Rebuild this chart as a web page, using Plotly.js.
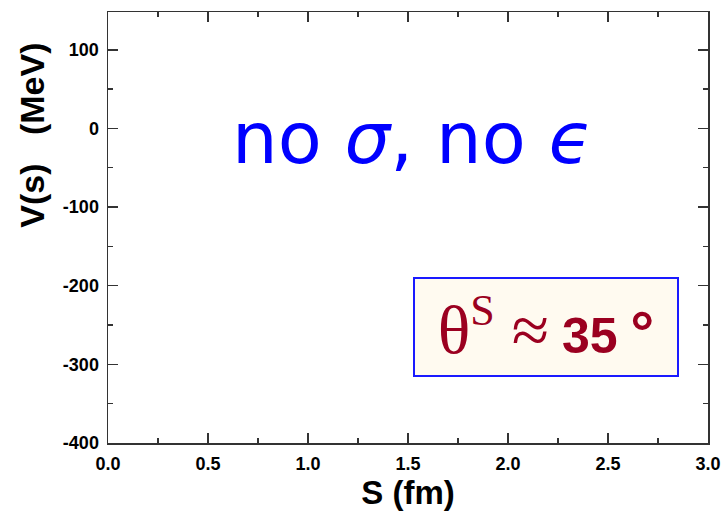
<!DOCTYPE html>
<html>
<head>
<meta charset="utf-8">
<script src="https://cdn.plot.ly/plotly-3.0.1.min.js"></script>
<style>html,body{margin:0;padding:0;background:#fff;}</style>
</head>
<body>
<div id="chart" style="width:727px;height:520px;"></div>
<script>
// Data (the reference chart shows empty axes — no plotted series)
const xRange = [0, 3.0];
const yRange = [-400, 148];
const xTickVals = [0, 0.5, 1.0, 1.5, 2.0, 2.5, 3.0];
const xTickText = ["0.0", "0.5", "1.0", "1.5", "2.0", "2.5", "3.0"];
const yTickVals = [-400, -300, -200, -100, 0, 100];
const yTickText = ["-400", "-300", "-200", "-100", "0", "100"];
const xTitle = "S (fm)";
const yTitle = "V(s)   (MeV)";
const label1 = "no <i>σ</i>, no <i>ϵ</i>";
const label2 = '<span style="font-family:\'Liberation Serif\';font-size:68px">θ<sup><span style="font-size:44px">S</span></sup> ≈</span> <b><span style="font-size:50px">35</span> <span style="font-size:60px">°</span></b>';

const axisCommon = {
  showgrid: false, zeroline: false, showline: true, mirror: 'ticks',
  linecolor: '#333', linewidth: 1.5, ticks: 'inside', ticklen: 10, tickwidth: 1.5, tickcolor: '#333',
  tickfont: {family: 'Liberation Sans, Arial', size: 18, color: '#000', weight: 'bold'}
};

const data = [{x: [], y: [], type: 'scatter', mode: 'lines', showlegend: false}];

const layout = {
  width: 727, height: 520,
  margin: {l: 108, r: 19, t: 12, b: 77},
  paper_bgcolor: '#fff', plot_bgcolor: '#fff',
  showlegend: false,
  xaxis: Object.assign({}, axisCommon, {
    range: xRange, tickmode: 'array', tickvals: xTickVals, ticktext: xTickText,
    ticklabelstandoff: 4,
    minor: {dtick: 0.25, ticks: 'inside', ticklen: 5, tickwidth: 1.5, tickcolor: '#333', showgrid: false},
    title: {text: xTitle, font: {family: 'Liberation Sans, Arial', size: 33, color: '#000', weight: 'bold'}, standoff: 8}
  }),
  yaxis: Object.assign({}, axisCommon, {
    range: yRange, tickmode: 'array', tickvals: yTickVals, ticktext: yTickText,
    ticklabelstandoff: 4,
    minor: {dtick: 50, ticks: 'inside', ticklen: 5, tickwidth: 1.5, tickcolor: '#333', showgrid: false},
    title: {text: ''}
  }),
  annotations: [
    {x: -0.127, y: 0.715, xref: 'paper', yref: 'paper', text: yTitle, textangle: -90, showarrow: false,
     xanchor: 'center', yanchor: 'middle',
     font: {family: 'Liberation Sans, Arial', size: 34, color: '#000', weight: 'bold'}},
    {x: 1.52, y: -12, xref: 'x', yref: 'y', text: label1, showarrow: false,
     font: {family: 'DejaVu Sans', size: 72, color: '#0000ff'}},
    {x: 2.19, y: -252, xref: 'x', yref: 'y', text: label2, showarrow: false,
     width: 258, height: 92, bgcolor: '#fffaf0', bordercolor: '#1a1aff', borderwidth: 2, borderpad: 2,
     font: {family: 'Liberation Sans, Arial', size: 46, color: '#9b0020'}}
  ]
};

Plotly.newPlot('chart', data, layout, {displayModeBar: false, staticPlot: true});
</script>
</body>
</html>
